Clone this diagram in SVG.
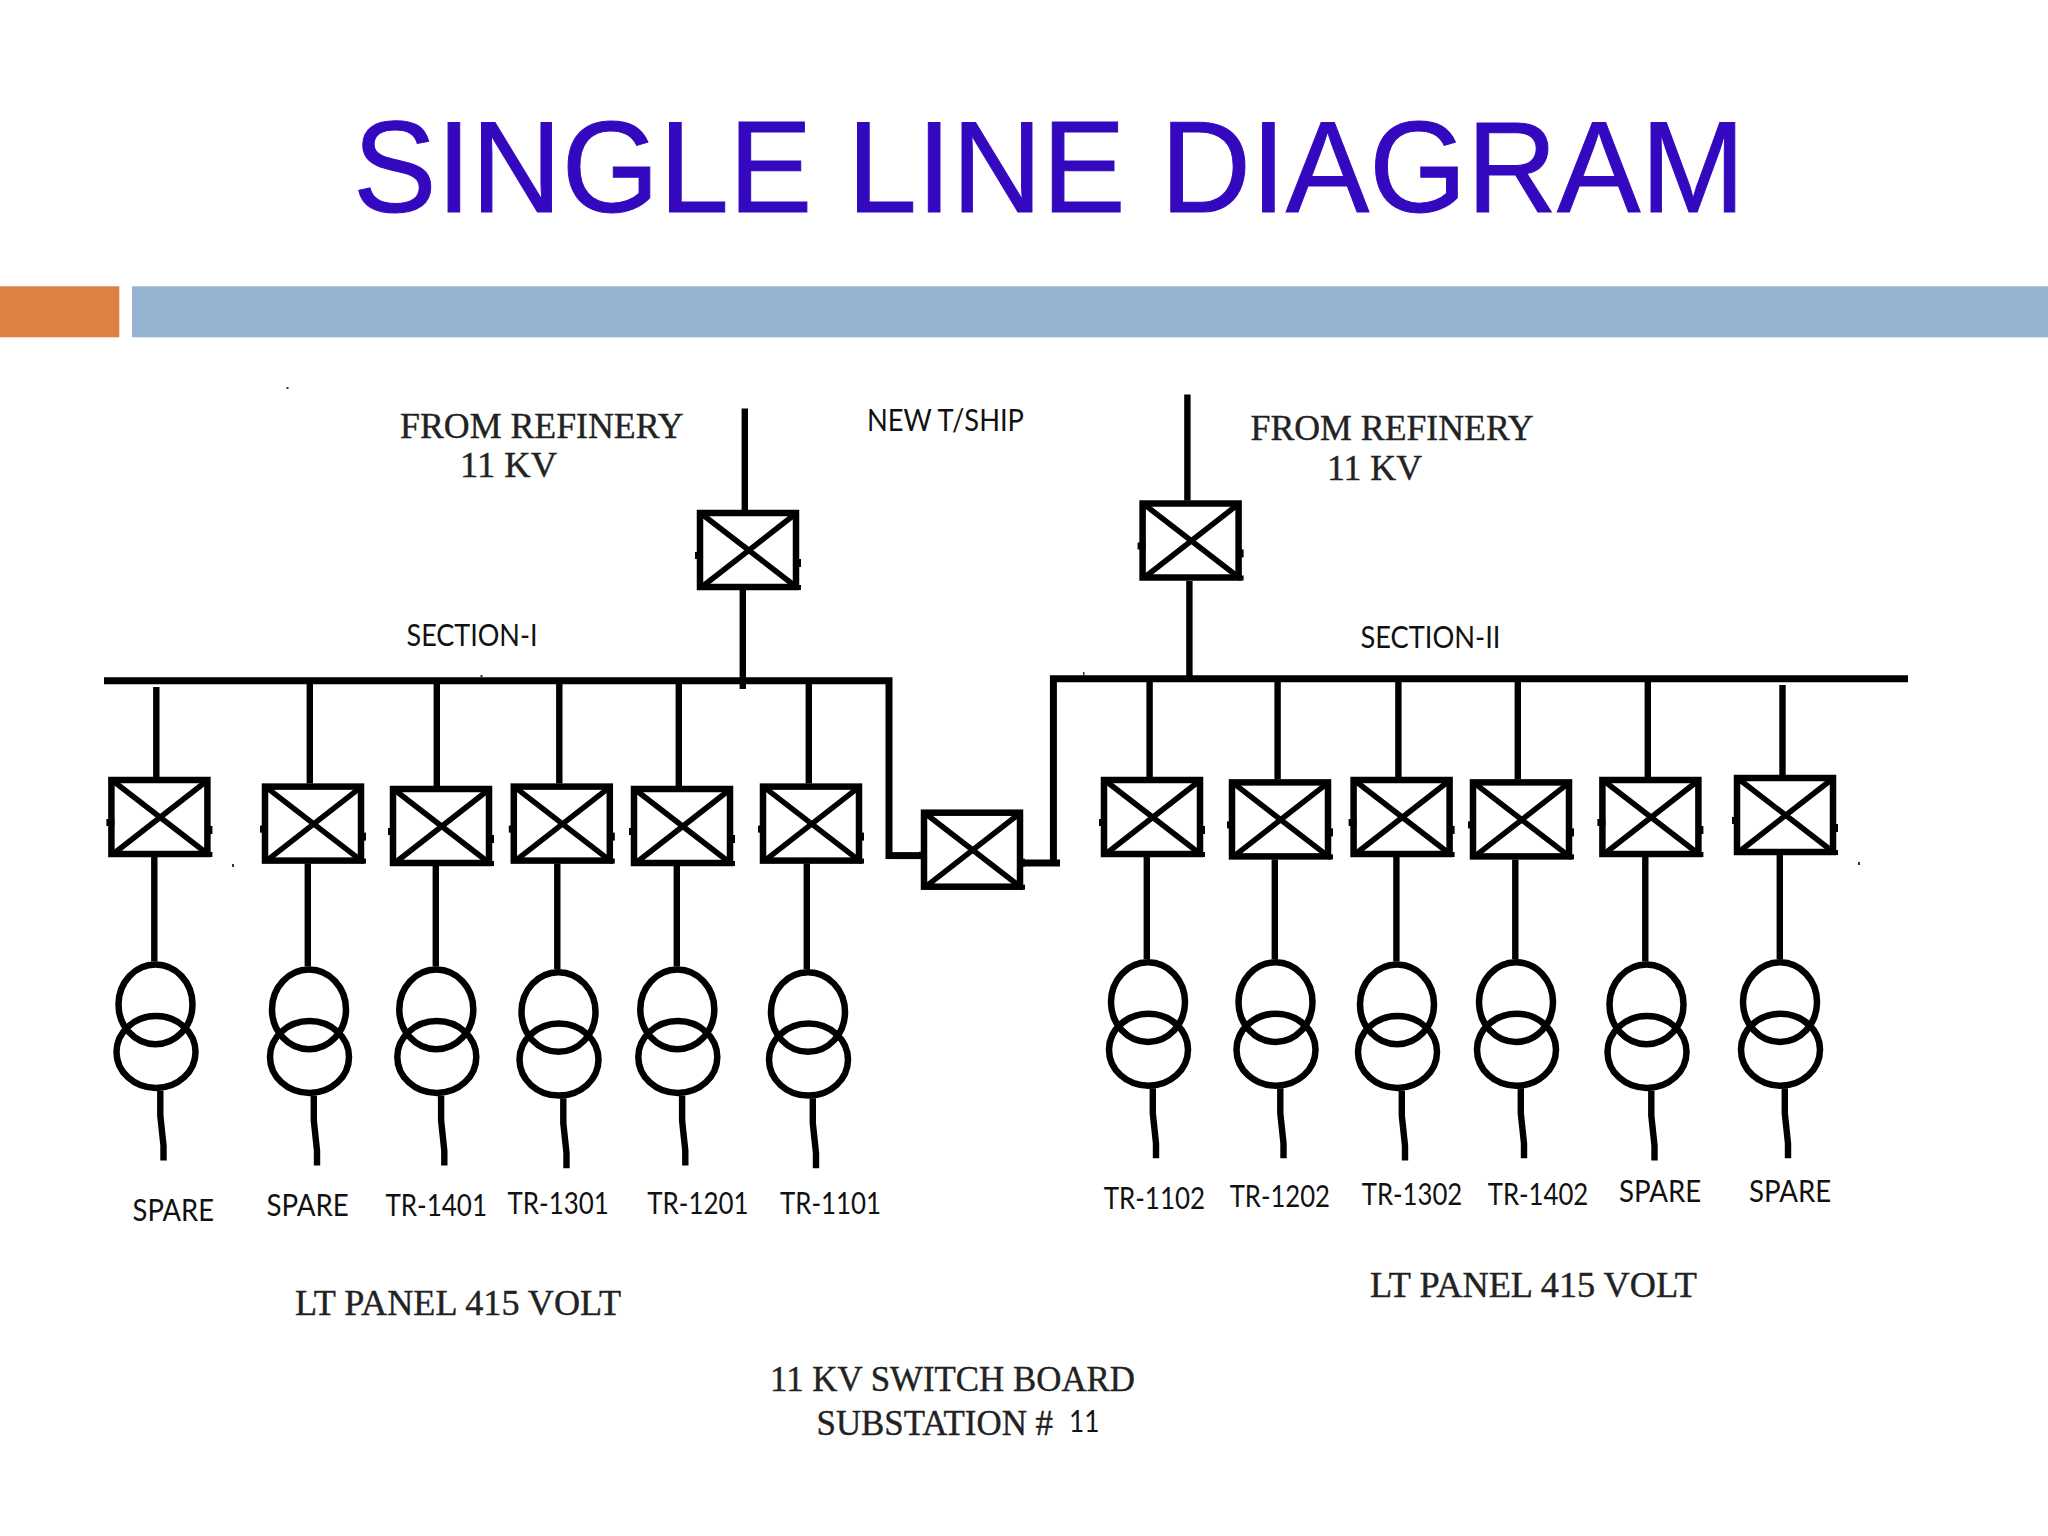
<svg xmlns="http://www.w3.org/2000/svg" width="2048" height="1536" viewBox="0 0 2048 1536">
<style>
.title{font-family:"Liberation Sans",Arial,sans-serif;font-size:129px;fill:#3408be;stroke:#3408be;stroke-width:1}
.ser{font-family:"Liberation Serif","Times New Roman",serif;font-size:36px;fill:#222;stroke:#222;stroke-width:.4}
.cal{font-family:"Lato","Liberation Sans",sans-serif;font-size:31px;fill:#111}
.w{fill:none;stroke:#000;stroke-width:6.4}
.bus{fill:none;stroke:#000;stroke-width:7}
.sym{fill:none;stroke:#000;stroke-width:6.5}
.x{fill:none;stroke:#000;stroke-width:5.5}
.spk{fill:#333}
</style>
<defs>
<g id="brk">
<rect class="sym" x="3" y="3" width="96" height="74"/>
<path class="x" d="M6 5L98 76M97 5L6 76"/>
<rect x="-2" y="42" width="8" height="7" fill="#000"/>
<rect x="98" y="49" width="6" height="8" fill="#000"/>
<rect x="99" y="75" width="5" height="5" fill="#000"/>
</g>
<g id="trf">
<ellipse class="sym" cx="0" cy="42.8" rx="37" ry="39.8"/>
<ellipse class="sym" cx="0.5" cy="90.4" rx="39.5" ry="36"/>
</g>
</defs>
<rect width="2048" height="1536" fill="#fff"/>
<text id="title" class="title" x="353" y="212" textLength="1392" lengthAdjust="spacingAndGlyphs">SINGLE LINE DIAGRAM</text>
<rect id="bar-orange" x="0" y="286.3" width="119.3" height="51" fill="#dc8044"/>
<rect id="bar-blue" x="132" y="286.3" width="1916" height="51" fill="#94b4d2"/>

<g id="connectors">
<path class="bus" d="M104 680.7H889V859"/>
<path class="bus" d="M889 855.6H921"/>
<path class="bus" d="M1908 678.8H1053.4V863"/>
<path class="bus" d="M1023 863H1060"/>
<g transform="translate(0.8 0)">
<path class="w" d="M744 408.6V510M742 589.6V689"/>
<path class="w" d="M1186.6 394.4V500.5M1188.6 581V678"/>
<path class="w" d="M155.5 687V777M309 684V783.6M436 684V786M558.5 684V783.6M678 684V786M808 684V783.6"/>
<path class="w" d="M153.5 857V961.6M307 863.6V966.6M435 866V966.6M556.5 863.6V969.2M676 866V966.6M806 863.6V969.2"/>
<path class="w" d="M1148.8 682V777M1276.8 682V779.4M1397.6 682V777M1517 682V779.4M1647 682V777M1781.7 685V775"/>
<path class="w" d="M1146 857V959.3M1274 859.4V959.3M1395.6 857V961.6M1514.5 859.4V959.3M1644.5 857V961.6M1779 855V959.3"/>
<path class="w" d="M159.5 1090.6V1115.6L162.7 1145.6V1160.6M313 1095.6V1120.6L316.2 1150.6V1165.6M440.3 1095.6V1120.6L443.5 1150.6V1165.6M562.5 1098.2V1123.2L565.7 1153.2V1168.2M681.3 1095.6V1120.6L684.5 1150.6V1165.6M812 1098.2V1123.2L815.2 1153.2V1168.2"/>
<path class="w" d="M1152 1088.3V1113.3L1155.2 1143.3V1158.3M1279.5 1088.3V1113.3L1282.7 1143.3V1158.3M1401 1090.6V1115.6L1404.2 1145.6V1160.6M1520 1088.3V1113.3L1523.2 1143.3V1158.3M1650.5 1090.6V1115.6L1653.7 1145.6V1160.6M1784 1088.3V1113.3L1787.2 1143.3V1158.3"/>
</g>
</g>

<g id="cb-in-1"><use href="#brk" x="697" y="510"/></g>
<g id="cb-in-2"><use href="#brk" x="1139.6" y="500.5"/></g>
<g id="cb-tie"><use href="#brk" x="921" y="809.7"/></g>
<g id="cb-l1"><use href="#brk" x="108.4" y="777"/></g>
<g id="cb-l2"><use href="#brk" x="262" y="783.6"/></g>
<g id="cb-l3"><use href="#brk" x="390" y="786"/></g>
<g id="cb-l4"><use href="#brk" x="510.8" y="783.6"/></g>
<g id="cb-l5"><use href="#brk" x="631" y="786"/></g>
<g id="cb-l6"><use href="#brk" x="760" y="783.6"/></g>
<g id="cb-r1"><use href="#brk" x="1101" y="777"/></g>
<g id="cb-r2"><use href="#brk" x="1229" y="779.4"/></g>
<g id="cb-r3"><use href="#brk" x="1350.6" y="777"/></g>
<g id="cb-r4"><use href="#brk" x="1470" y="779.4"/></g>
<g id="cb-r5"><use href="#brk" x="1599.4" y="777"/></g>
<g id="cb-r6"><use href="#brk" x="1734" y="775"/></g>

<g id="tr-l1"><use href="#trf" x="155.5" y="961.6"/><text class="cal" x="132.6" y="1220.5" textLength="81.4" lengthAdjust="spacingAndGlyphs">SPARE</text></g>
<g id="tr-l2"><use href="#trf" x="309" y="966.6"/><text class="cal" x="266.5" y="1216" textLength="82.3" lengthAdjust="spacingAndGlyphs">SPARE</text></g>
<g id="tr-l3"><use href="#trf" x="436.3" y="966.6"/><text class="cal" x="385.4" y="1216" textLength="101.6" lengthAdjust="spacingAndGlyphs">TR-1401</text></g>
<g id="tr-l4"><use href="#trf" x="558.5" y="969.2"/><text class="cal" x="507.5" y="1214" textLength="101.3" lengthAdjust="spacingAndGlyphs">TR-1301</text></g>
<g id="tr-l5"><use href="#trf" x="677.3" y="966.6"/><text class="cal" x="647.3" y="1214" textLength="101.2" lengthAdjust="spacingAndGlyphs">TR-1201</text></g>
<g id="tr-l6"><use href="#trf" x="808" y="969.2"/><text class="cal" x="780" y="1214" textLength="101" lengthAdjust="spacingAndGlyphs">TR-1101</text></g>
<g id="tr-r1"><use href="#trf" x="1148" y="959.3"/><text class="cal" x="1103.7" y="1208.5" textLength="101.3" lengthAdjust="spacingAndGlyphs">TR-1102</text></g>
<g id="tr-r2"><use href="#trf" x="1275.5" y="959.3"/><text class="cal" x="1229.7" y="1206.5" textLength="100.3" lengthAdjust="spacingAndGlyphs">TR-1202</text></g>
<g id="tr-r3"><use href="#trf" x="1397" y="961.6"/><text class="cal" x="1361.7" y="1204.5" textLength="100.6" lengthAdjust="spacingAndGlyphs">TR-1302</text></g>
<g id="tr-r4"><use href="#trf" x="1516" y="959.3"/><text class="cal" x="1487.7" y="1204.5" textLength="100.6" lengthAdjust="spacingAndGlyphs">TR-1402</text></g>
<g id="tr-r5"><use href="#trf" x="1646.5" y="961.6"/><text class="cal" x="1619" y="1201.5" textLength="82.3" lengthAdjust="spacingAndGlyphs">SPARE</text></g>
<g id="tr-r6"><use href="#trf" x="1780" y="959.3"/><text class="cal" x="1749" y="1201.5" textLength="82.3" lengthAdjust="spacingAndGlyphs">SPARE</text></g>

<g id="labels">
<text class="ser" x="400" y="437.5" textLength="283.5" lengthAdjust="spacingAndGlyphs">FROM REFINERY</text>
<text class="ser" x="460" y="477" textLength="97" lengthAdjust="spacingAndGlyphs">11 KV</text>
<text class="cal" x="867" y="431" textLength="157" lengthAdjust="spacingAndGlyphs">NEW T/SHIP</text>
<text class="ser" x="1250.6" y="439.5" textLength="283" lengthAdjust="spacingAndGlyphs">FROM REFINERY</text>
<text class="ser" x="1327" y="479.8" textLength="95" lengthAdjust="spacingAndGlyphs">11 KV</text>
<text class="cal" x="406.5" y="646" textLength="131" lengthAdjust="spacingAndGlyphs">SECTION-I</text>
<text class="cal" x="1360.4" y="648" textLength="140" lengthAdjust="spacingAndGlyphs">SECTION-II</text>
<text class="ser" x="295" y="1314.5" textLength="326" lengthAdjust="spacingAndGlyphs">LT PANEL 415 VOLT</text>
<text class="ser" x="1370" y="1296.8" textLength="327" lengthAdjust="spacingAndGlyphs">LT PANEL 415 VOLT</text>
<text class="ser" x="770" y="1391" textLength="365" lengthAdjust="spacingAndGlyphs">11 KV SWITCH BOARD</text>
<text class="ser" x="816.5" y="1434.5" textLength="236.5" lengthAdjust="spacingAndGlyphs">SUBSTATION #</text>
<text class="cal" x="1069" y="1432" textLength="30.5" lengthAdjust="spacingAndGlyphs">11</text>
</g>
<g id="specks">
<rect class="spk" x="286.5" y="387" width="2" height="2"/>
<rect class="spk" x="232" y="864" width="2" height="3"/>
<rect class="spk" x="1858" y="862" width="2" height="3"/>
<rect class="spk" x="480.5" y="675" width="2" height="3"/>
<rect class="spk" x="1083" y="672" width="1.5" height="4"/>
</g>
</svg>
